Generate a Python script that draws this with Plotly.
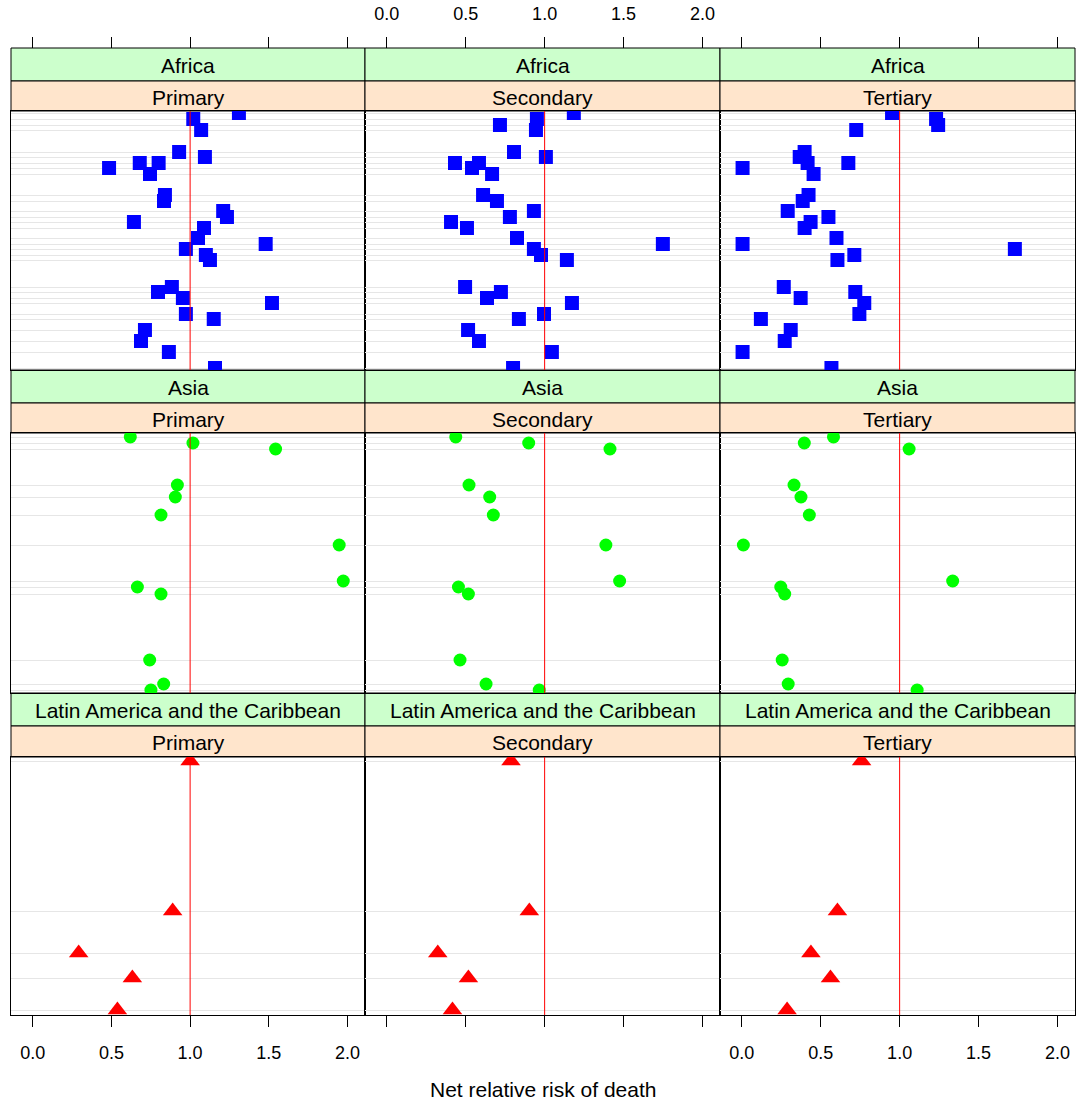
import plotly.graph_objects as go

# ---------------- data ----------------
regions = ["Africa", "Asia", "Latin America and the Caribbean"]
levels = ["Primary", "Secondary", "Tertiary"]

# country position score (y variable, arbitrary units) per region
africa_y = [257, 251, 245, 240, 218, 213, 207, 207, 202, 196, 175, 169, 159, 153, 148, 142,
            132, 126, 121, 115, 110, 83, 78, 72, 67, 56, 51, 40, 29, 18, 2]
africa_primary = [1.31, 1.02, None, 1.07, 0.93, 1.094, 0.68, 0.80, 0.485, 0.745, 0.84, 0.834,
                  1.21, 1.234, 0.643, 1.088, 1.05, 1.48, 0.973, 1.10, 1.126, 0.884, 0.796,
                  0.954, 1.52, 0.973, 1.15, 0.713, 0.688, 0.865, 1.158]
africa_secondary = [1.185, 0.951, 0.717, 0.945, 0.806, 1.008, 0.432, 0.584, 0.54, 0.667, 0.61,
                    0.698, 0.932, 0.78, 0.407, 0.508, 0.825, 1.749, 0.932, 0.977, 1.141, 0.496,
                    0.723, 0.635, 1.173, 0.996, 0.837, 0.515, 0.584, 1.046, 0.80]
africa_tertiary = [0.952, 1.231, 1.244, 0.725, 0.398, 0.367, 0.417, 0.675, 0.005, 0.455, 0.423,
                   0.386, 0.291, 0.549, 0.436, 0.398, 0.60, 0.005, 1.73, 0.713, 0.606, 0.266,
                   0.719, 0.373, 0.776, 0.745, 0.121, 0.31, 0.272, 0.005, 0.568]

asia_y = [256, 250, 244, 208, 196, 178, 148, 112, 106, 99, 33, 9, 3]
asia_primary = [0.62, 1.018, 1.543, 0.919, 0.906, 0.815, 1.947, 1.973, 0.665, 0.815, 0.743, 0.832, 0.751]
asia_secondary = [0.437, 0.899, 1.414, 0.521, 0.652, 0.675, 1.388, 1.475, 0.454, 0.517, 0.464, 0.629, 0.966]
asia_tertiary = [0.581, 0.396, 1.06, 0.331, 0.375, 0.428, 0.01, 1.336, 0.247, 0.272, 0.256, 0.294, 1.111]

latam_y = [254, 104, 62, 37, 5]
latam_primary = [1.0, 0.889, 0.292, 0.633, 0.538]
latam_secondary = [0.787, 0.903, 0.323, 0.517, 0.416]
latam_tertiary = [0.759, 0.606, 0.438, 0.562, 0.287]

x_ticks = [0, 0.5, 1, 1.5, 2]
x_tick_labels = ["0.0", "0.5", "1.0", "1.5", "2.0"]
reference_value = 1.0
x_title = "Net relative risk of death"

region_y = [africa_y, asia_y, latam_y]
region_vals = [
    [africa_primary, africa_secondary, africa_tertiary],
    [asia_primary, asia_secondary, asia_tertiary],
    [latam_primary, latam_secondary, latam_tertiary],
]
region_yrange = [[0, 259], [0, 260], [0, 258]]

# ---------------- styling ----------------
W, H = 1077, 1105
FONT = "Liberation Sans"
marker_styles = [
    dict(symbol="square", color="#0000FF", size=14),
    dict(symbol="circle", color="#00FF00", size=13),
    dict(symbol="triangle-up", color="#FF0000", size=17),
]
col_px = [(11, 365), (365, 720), (720, 1075)]
row_px = [(111, 370), (433, 693), (757, 1015)]
strip_outer_px = [(48, 81), (370, 403), (693, 726)]
strip_inner_px = [(81, 111), (403, 433), (726, 757)]
XR = [-0.138, 2.111]


def fx(p):
    return p / W


def fy(p):
    return 1 - p / H


fig = go.Figure()
layout = dict(
    width=W, height=H, autosize=False,
    margin=dict(l=0, r=0, t=0, b=0),
    paper_bgcolor="white", plot_bgcolor="white",
    showlegend=False,
    font=dict(family=FONT, color="black"),
)
shapes = []
annotations = []

for r in range(3):
    for c in range(3):
        k = r * 3 + c + 1
        xa = "x" if k == 1 else f"x{k}"
        ya = "y" if k == 1 else f"y{k}"
        xname = "xaxis" if k == 1 else f"xaxis{k}"
        yname = "yaxis" if k == 1 else f"yaxis{k}"
        bottom = (r == 2)
        layout[xname] = dict(
            domain=[fx(col_px[c][0]), fx(col_px[c][1])],
            anchor=ya, range=XR,
            tickvals=x_ticks, ticktext=x_tick_labels,
            ticks="outside" if bottom else "", ticklen=11, tickcolor="black", tickwidth=1,
            showticklabels=bottom and c != 1,
            ticklabelstandoff=10,
            tickfont=dict(size=18, family=FONT, color="black"),
            showgrid=False, zeroline=False,
            showline=True, mirror=True, linecolor="black", linewidth=1,
            fixedrange=True,
        )
        layout[yname] = dict(
            domain=[fy(row_px[r][1]), fy(row_px[r][0])],
            anchor=xa, range=region_yrange[r],
            tickvals=region_y[r], showticklabels=False, ticks="",
            showgrid=True, gridcolor="#e6e6e6", gridwidth=1,
            zeroline=False,
            showline=True, mirror=True, linecolor="black", linewidth=1,
            fixedrange=True,
        )
        fig.add_trace(go.Scatter(
            x=region_vals[r][c], y=region_y[r],
            mode="markers", xaxis=xa, yaxis=ya,
            marker=dict(**marker_styles[r], line=dict(width=0)),
            cliponaxis=True, hoverinfo="x+y",
        ))
        shapes.append(dict(
            type="line", xref=xa, yref=f"{ya} domain",
            x0=reference_value, x1=reference_value, y0=0, y1=1,
            line=dict(color="#FF0000", width=1), layer="above",
        ))
        # strips
        for (spx, col, label) in [
            (strip_outer_px[r], "#CCFFCC", regions[r]),
            (strip_inner_px[r], "#FFE5CC", levels[c]),
        ]:
            shapes.append(dict(
                type="rect", xref="paper", yref="paper",
                x0=fx(col_px[c][0]), x1=fx(col_px[c][1]),
                y0=fy(spx[1]), y1=fy(spx[0]),
                fillcolor=col, line=dict(color="black", width=1), layer="below",
            ))
            annotations.append(dict(
                x=fx((col_px[c][0] + col_px[c][1]) / 2), y=fy((spx[0] + spx[1]) / 2 + 1),
                xref="paper", yref="paper", text=label, showarrow=False,
                xanchor="center", yanchor="middle",
                font=dict(size=21, family=FONT, color="black"),
            ))

# top tick axes (overlaying the first-row axes)
for c in range(3):
    k = 10 + c
    base = "x" if c == 0 else f"x{c + 1}"
    base_y = "y" if c == 0 else f"y{c + 1}"
    layout[f"xaxis{k}"] = dict(
        overlaying=base, anchor="free", position=fy(48), side="top",
        range=XR, tickvals=x_ticks, ticktext=x_tick_labels,
        ticks="outside", ticklen=11, tickcolor="black", tickwidth=1,
        showticklabels=(c == 1), ticklabelstandoff=10,
        tickfont=dict(size=18, family=FONT, color="black"),
        showgrid=False, zeroline=False, showline=False, fixedrange=True,
    )
    fig.add_trace(go.Scatter(x=[], y=[], xaxis=f"x{k}", yaxis=base_y,
                             mode="markers", hoverinfo="skip", showlegend=False))

annotations.append(dict(
    x=fx(543), y=fy(1089), xref="paper", yref="paper", text=x_title,
    showarrow=False, xanchor="center", yanchor="middle",
    font=dict(size=21, family=FONT, color="black"),
))

layout["shapes"] = shapes
layout["annotations"] = annotations
fig.update_layout(**layout)
fig.write_html(
    "out.html",
    config={"displayModeBar": False},
    post_script="document.body.style.margin='0';document.body.style.overflow='hidden';",
)
